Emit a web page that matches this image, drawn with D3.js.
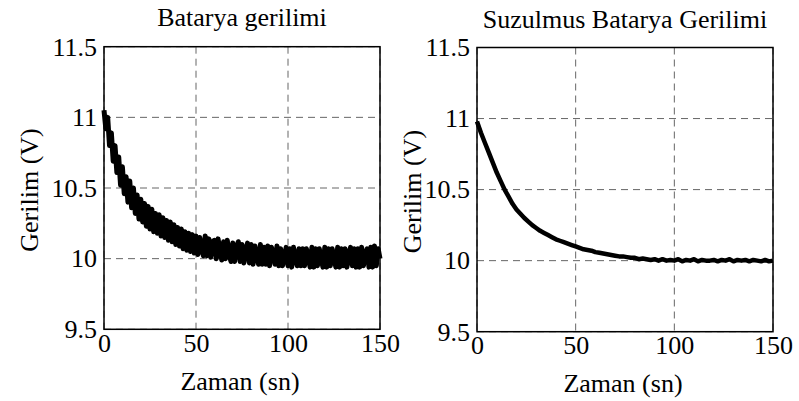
<!DOCTYPE html>
<html>
<head>
<meta charset="utf-8">
<script src="https://cdn.jsdelivr.net/npm/d3@7"></script>
<style>
  body { margin: 0; background: #fff; }
  svg { display: block; font-family: "Liberation Serif", "Times New Roman", serif; }
  .grid line { stroke: #666; stroke-width: 1; stroke-dasharray: 7,5; }
  .frame { fill: none; stroke: #000; stroke-width: 1.5; }
  .tick text { font-family: "Liberation Serif", "Times New Roman", serif; font-size: 26px; fill: #000; }
</style>
</head>
<body>
<div id="chart"></div>
<script>
// time axis ticks and voltage ticks
const xTicks = [0, 50, 100, 150];
const yTicks = [9.5, 10, 10.5, 11, 11.5];

// raw battery voltage, one sample per second (0..150 s)
const rawVoltage = [
  11.05, 10.92, 11.00, 10.80, 10.89, 10.69, 10.80, 10.61, 10.72, 10.52,
  10.65, 10.46, 10.58, 10.40, 10.55, 10.36, 10.50, 10.32, 10.45, 10.28,
  10.42, 10.26, 10.39, 10.23, 10.37, 10.21, 10.35, 10.19, 10.32, 10.18,
  10.31, 10.16, 10.29, 10.15, 10.27, 10.13, 10.26, 10.12, 10.24, 10.10,
  10.22, 10.09, 10.21, 10.07, 10.19, 10.06, 10.18, 10.05, 10.17, 10.04,
  10.16, 10.03, 10.15, 10.08, 10.02, 10.16, 10.02, 10.14, 10.01, 10.12,
  10.13, 10.00, 10.14, 10.06, 9.99, 10.12, 10.00, 10.13, 10.03, 9.98,
  10.11, 9.98, 10.08, 10.12, 9.98, 10.10, 9.97, 10.05, 10.11, 9.97,
  10.10, 9.96, 10.09, 10.02, 9.96, 10.10, 9.96, 10.08, 9.96, 10.09,
  9.95, 10.08, 10.04, 9.96, 10.09, 9.95, 10.07, 9.95, 10.01, 10.08,
  9.95, 10.07, 9.94, 10.08, 10.00, 9.95, 10.07, 9.95, 10.07, 9.95,
  10.07, 10.02, 9.94, 10.08, 9.94, 10.07, 9.95, 10.07, 10.00, 9.94,
  10.08, 9.94, 10.07, 9.95, 10.07, 10.01, 9.94, 10.08, 9.94, 10.07,
  9.95, 10.07, 9.94, 10.02, 10.08, 9.95, 10.07, 9.94, 10.07, 9.94,
  10.08, 9.95, 10.03, 10.07, 9.94, 10.08, 9.94, 10.09, 9.95, 10.07,
  10.00
];
const rawTime = rawVoltage.map((d, i) => i);

// filtered voltage, one sample every 2 s (0..150 s)
const filtVoltage = [
  10.98, 10.90, 10.83, 10.76, 10.69, 10.62, 10.56, 10.50, 10.45, 10.40,
  10.36, 10.33, 10.30, 10.275, 10.25, 10.23, 10.21, 10.195, 10.18, 10.165,
  10.15, 10.14, 10.13, 10.12, 10.11, 10.10, 10.09, 10.08, 10.075, 10.07,
  10.06, 10.055, 10.05, 10.045, 10.04, 10.035, 10.03, 10.03, 10.025, 10.02,
  10.02, 10.01, 10.015, 10.01, 10.005, 10.01, 10.0, 10.01, 10.0, 10.005,
  10.0, 10.01, 9.995, 10.005, 10.0, 10.01, 9.995, 10.005, 10.0, 10.0,
  10.005, 9.995, 10.005, 10.0, 10.01, 9.995, 10.005, 10.0, 10.005, 9.995,
  10.005, 10.0, 9.995, 10.005, 9.995, 10.0
];
const filtTime = filtVoltage.map((d, i) => i * 2);

const titles = ["Batarya gerilimi", "Suzulmus Batarya Gerilimi"];
const xLabel = "Zaman (sn)";
const yLabel = "Gerilim (V)";

const serif = "'Liberation Serif', 'Times New Roman', serif";
const width = 799, height = 401;
const svg = d3.select("#chart").append("svg")
  .attr("width", width)
  .attr("height", height);

// panel boxes
const panels = [
  { left: 104, right: 380, top: 46.7, bottom: 329.3, t: rawTime, v: rawVoltage, lw: 5, ylabX: 38 },
  { left: 477, right: 773, top: 47.5, bottom: 331.7, t: filtTime, v: filtVoltage, lw: 4.5, ylabX: 421 }
];

panels.forEach((p, k) => {
  const x = d3.scaleLinear().domain([0, 150]).range([p.left, p.right]);
  const y = d3.scaleLinear().domain([9.5, 11.5]).range([p.bottom, p.top]);
  const g = svg.append("g");

  // grid
  const grid = g.append("g").attr("class", "grid");
  grid.selectAll(".vg").data(xTicks).enter().append("line")
    .attr("class", "vg")
    .attr("x1", d => x(d)).attr("x2", d => x(d))
    .attr("y1", p.top).attr("y2", p.bottom);
  grid.selectAll(".hg").data(yTicks).enter().append("line")
    .attr("class", "hg")
    .attr("x1", p.left).attr("x2", p.right)
    .attr("y1", d => y(d)).attr("y2", d => y(d));

  // data
  const line = d3.line()
    .x((d, i) => x(p.t[i]))
    .y(d => y(d));
  g.append("path")
    .datum(p.v)
    .attr("fill", "none")
    .attr("stroke", "#000")
    .attr("stroke-width", p.lw)
    .attr("stroke-linejoin", "round")
    .attr("d", line);

  // frame
  g.append("rect").attr("class", "frame")
    .attr("x", p.left).attr("y", p.top)
    .attr("width", p.right - p.left).attr("height", p.bottom - p.top);

  // axes (labels only, grid carries the ticks)
  g.append("g")
    .attr("transform", `translate(0,${p.bottom})`)
    .call(d3.axisBottom(x).tickValues(xTicks).tickSize(0).tickPadding(4).tickFormat(d => String(d)))
    .call(a => a.attr("font-family", serif).attr("font-size", 26))
    .call(a => a.select(".domain").remove());
  g.append("g")
    .attr("transform", `translate(${p.left},0)`)
    .call(d3.axisLeft(y).tickValues(yTicks).tickSize(0).tickPadding(7).tickFormat(d => String(d)))
    .call(a => a.attr("font-family", serif).attr("font-size", 26))
    .call(a => a.select(".domain").remove());

  const cx = (p.left + p.right) / 2;
  g.append("text")
    .attr("x", cx).attr("y", 26 + k * 1.5)
    .attr("text-anchor", "middle")
    .attr("font-family", serif)
    .attr("font-size", 26)
    .text(titles[k]);
  g.append("text")
    .attr("x", cx - 2).attr("y", 390 + k * 1.5)
    .attr("text-anchor", "middle")
    .attr("font-family", serif)
    .attr("font-size", 26)
    .text(xLabel);
  g.append("text")
    .attr("transform", `translate(${p.ylabX},${(p.top + p.bottom) / 2 + 2}) rotate(-90)`)
    .attr("text-anchor", "middle")
    .attr("font-family", serif)
    .attr("font-size", 26)
    .text(yLabel);
});
</script>
</body>
</html>
